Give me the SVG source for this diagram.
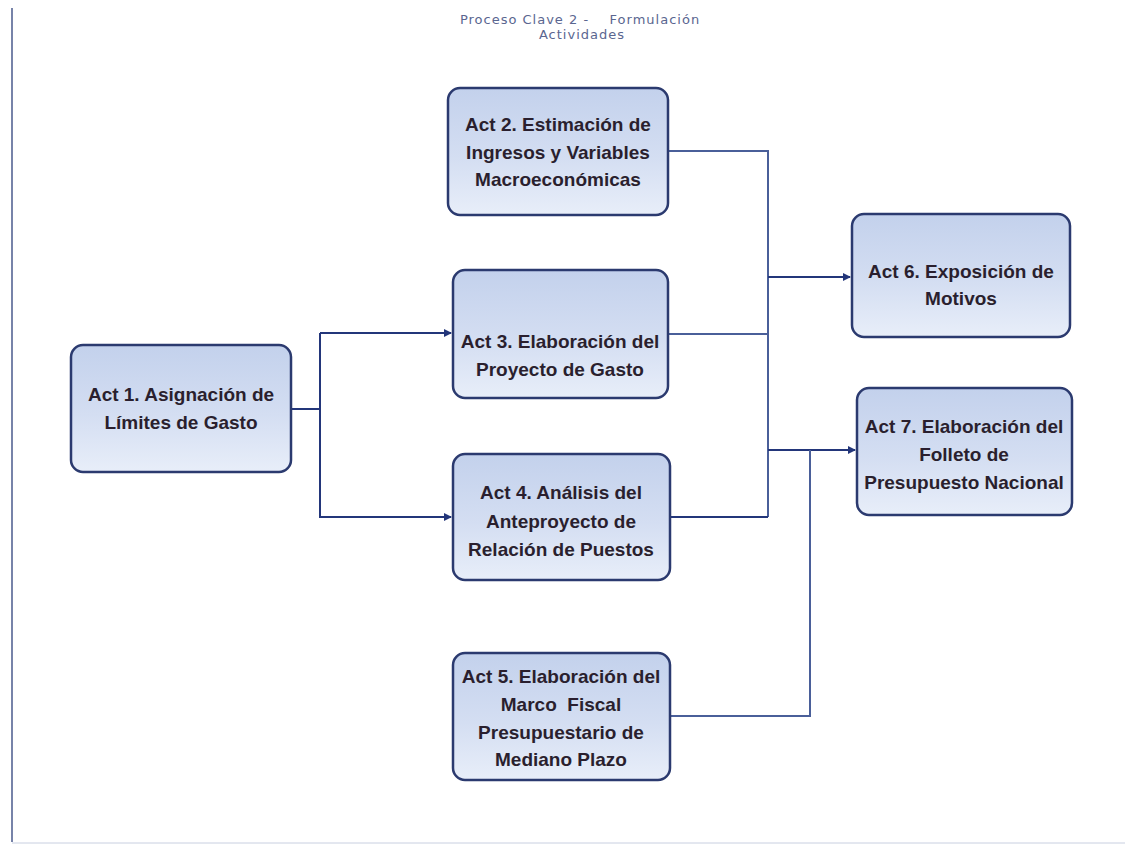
<svg xmlns="http://www.w3.org/2000/svg" width="1133" height="847" viewBox="0 0 1133 847">
  <defs>
    <linearGradient id="boxFill" x1="0" y1="0" x2="0" y2="1">
      <stop offset="0" stop-color="#c3d1ec"/>
      <stop offset="0.55" stop-color="#d4def2"/>
      <stop offset="1" stop-color="#e8eef9"/>
    </linearGradient>
    <marker id="arrow" viewBox="0 0 8 8" refX="7" refY="4" markerWidth="4" markerHeight="4" orient="auto" markerUnits="strokeWidth">
      <path d="M0,0 L8,4 L0,8 Z" fill="#23367a"/>
    </marker>
    <style>
      .box { fill: url(#boxFill); stroke: #2b3a6f; stroke-width: 2.5; }
      .lbl { font-family: "Liberation Sans", Arial, sans-serif; font-size: 19px; font-weight: bold; fill: #2a1f2e; text-anchor: middle; }
      .title { font-family: "DejaVu Sans", sans-serif; font-size: 13px; letter-spacing: 1px; fill: #5a6690; text-anchor: middle; }
      .wire { fill: none; stroke: #23367a; stroke-width: 2; }
      .wire-light { fill: none; stroke: #4a5f99; stroke-width: 2; }
      .frame { stroke: #4a5a8c; stroke-width: 1.5; }
    </style>
  </defs>

  <rect width="1133" height="847" fill="#ffffff"/>

  <!-- page frame -->
  <line class="frame" x1="12" y1="8" x2="12" y2="842"/>
  <line x1="12" y1="843" x2="1125" y2="843" stroke="#c8cfe0" stroke-width="1"/>

  <!-- title -->
  <g id="title">
    <text class="title" x="580" y="24" xml:space="preserve">Proceso Clave 2 -    Formulación</text>
    <text class="title" x="582" y="39">Actividades</text>
  </g>

  <!-- connectors -->
  <g id="connectors">
    <path class="wire" d="M291,409 H320"/>
    <path class="wire" d="M320,333 V518"/>
    <path class="wire" d="M320,333 H451" marker-end="url(#arrow)"/>
    <path class="wire" d="M320,517 H451" marker-end="url(#arrow)"/>
    <path class="wire-light" d="M668,151 H768 V517"/>
    <path class="wire-light" d="M668,334 H768"/>
    <path class="wire" d="M670,517 H768"/>
    <path class="wire" d="M768,277 H850" marker-end="url(#arrow)"/>
    <path class="wire" d="M768,450 H855" marker-end="url(#arrow)"/>
    <path class="wire-light" d="M670,716 H810 V450"/>
  </g>

  <!-- nodes -->
  <g id="act1">
    <rect class="box" x="71" y="345" width="220" height="127" rx="12"/>
    <text class="lbl" x="181" y="401">Act 1. Asignación de</text>
    <text class="lbl" x="181" y="429">Límites de Gasto</text>
  </g>

  <g id="act2">
    <rect class="box" x="448" y="88" width="220" height="127" rx="12"/>
    <text class="lbl" x="558" y="131">Act 2. Estimación de</text>
    <text class="lbl" x="558" y="159">Ingresos y Variables</text>
    <text class="lbl" x="558" y="186">Macroeconómicas</text>
  </g>

  <g id="act3">
    <rect class="box" x="453" y="270" width="215" height="128" rx="12"/>
    <text class="lbl" x="560" y="348">Act 3. Elaboración del</text>
    <text class="lbl" x="560" y="376">Proyecto de Gasto</text>
  </g>

  <g id="act4">
    <rect class="box" x="453" y="454" width="217" height="126" rx="12"/>
    <text class="lbl" x="561" y="499">Act 4. Análisis del</text>
    <text class="lbl" x="561" y="528">Anteproyecto de</text>
    <text class="lbl" x="561" y="556">Relación de Puestos</text>
  </g>

  <g id="act5">
    <rect class="box" x="453" y="653" width="217" height="127" rx="12"/>
    <text class="lbl" x="561" y="683">Act 5. Elaboración del</text>
    <text class="lbl" x="561" y="711" xml:space="preserve">Marco  Fiscal</text>
    <text class="lbl" x="561" y="739">Presupuestario de</text>
    <text class="lbl" x="561" y="766">Mediano Plazo</text>
  </g>

  <g id="act6">
    <rect class="box" x="852" y="214" width="218" height="123" rx="12"/>
    <text class="lbl" x="961" y="278">Act 6. Exposición de</text>
    <text class="lbl" x="961" y="305">Motivos</text>
  </g>

  <g id="act7">
    <rect class="box" x="857" y="388" width="215" height="127" rx="12"/>
    <text class="lbl" x="964" y="433">Act 7. Elaboración del</text>
    <text class="lbl" x="964" y="461">Folleto de</text>
    <text class="lbl" x="964" y="489">Presupuesto Nacional</text>
  </g>
</svg>
